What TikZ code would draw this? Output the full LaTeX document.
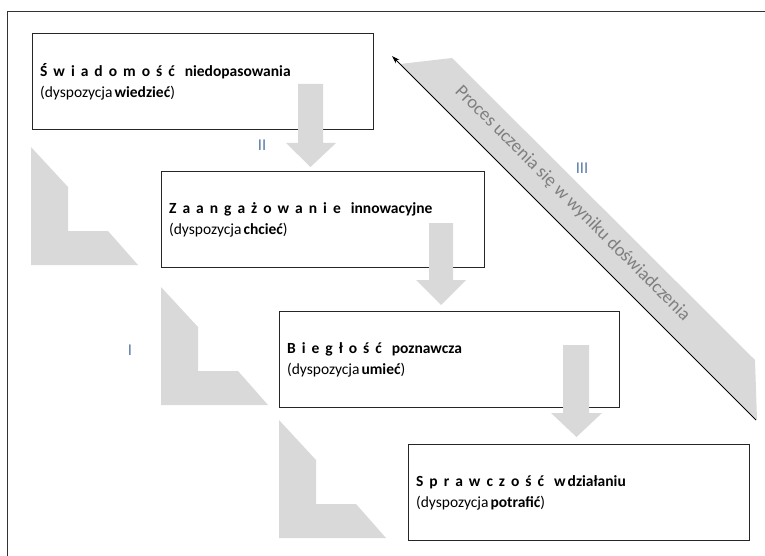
\documentclass[tikz,border=0pt]{standalone}
\usepackage{fontspec}
\setmainfont{Carlito}
\usetikzlibrary{arrows.meta}
\definecolor{shade}{HTML}{D9D9D9}
\definecolor{bandtext}{HTML}{7F7F7F}
\definecolor{numcol}{HTML}{5A7CA6}
\newcommand\ls{\kern6pt}
\newcommand\gapw{\hspace{10pt}}
\begin{document}
\begin{tikzpicture}[x=1pt,y=-1pt,
  stagebox/.style={draw=black!85, line width=1.3pt, fill=white, rectangle, anchor=north west,
    minimum height=96pt, inner xsep=7.5pt, inner ysep=0pt, align=left,
    font=\fontsize{15.5}{21.5}\selectfont},
  shadeshape/.style={fill=shade, draw=none},
  numlabel/.style={text=numcol, font=\fontsize{16.5}{20}\selectfont, inner sep=0pt}]
\useasboundingbox (0,0) rectangle (765,556);
% outer frame
\draw[line width=1.3pt, black!80] (765,11.5) -- (7.7,11.5) -- (7.7,556);
% L-shaped shades
\foreach \X/\Y in {31/147, 161/287, 279/420}
  \fill[shadeshape, shift={(\X,\Y)}] (0,0) -- (37,40) -- (37,84) -- (77,84) -- (107,118) -- (0,118) -- cycle;
% diagonal band
\fill[shadeshape] (400,64) -- (452,58) -- (755,360) -- (757,420) -- cycle;
\coordinate (lineStart) at (756,420);
\coordinate (lineEnd) at (392,56);
\draw[-{Stealth[length=8pt,width=5pt]}, line width=0.9pt] (lineStart) -- (lineEnd);
% boxes
\node[stagebox, minimum width=341pt, text width=326pt] (s1) at (32,33)
  {{\bfseries Ś\ls w\ls i\ls a\ls d\ls o\ls m\ls o\ls ś\ls ć\gapw niedopasowania}\\(dyspozycja\kern2pt\textbf{wiedzieć})};
\node[stagebox, minimum width=323pt, text width=308pt] (s2) at (161,171)
  {{\bfseries Z\ls a\ls a\ls n\ls g\ls a\ls ż\ls o\ls w\ls a\ls n\ls i\ls e\gapw innowacyjne}\\(dyspozycja\kern2pt\textbf{chcieć})};
\node[stagebox, minimum width=340pt, text width=325pt] (s3) at (279,311)
  {{\bfseries B\ls i\ls e\ls g\ls ł\ls o\ls ś\ls ć\gapw poznawcza}\\(dyspozycja\kern2pt\textbf{umieć})};
\node[stagebox, minimum width=341pt, text width=326pt] (s4) at (408,444)
  {{\bfseries S\ls p\ls r\ls a\ls w\ls c\ls z\ls o\ls ś\ls ć\gapw w\kern2pt działaniu}\\(dyspozycja\kern2pt\textbf{potrafić})};
% down arrows
\fill[shadeshape] (298,84) -- (323,84) -- (323,143) -- (336,143) -- (310.5,167) -- (286,143) -- (298,143) -- cycle;
\fill[shadeshape] (429,223) -- (453,223) -- (453,280) -- (466,280) -- (441,305) -- (416,280) -- (429,280) -- cycle;
\fill[shadeshape] (563,345) -- (589,345) -- (589,413) -- (602,413) -- (576.5,437) -- (551,413) -- (563,413) -- cycle;
% labels
\node[numlabel] (n2) at (262,145) {II};
\node[numlabel] (n3) at (582,168) {III};
\node[numlabel] (n1) at (130,350) {I};
\node[rotate=-45, text=bandtext, font=\fontsize{18.5}{20}\selectfont, inner sep=0pt] (band) at (572.5,203.5)
  {Proces uczenia się w wyniku doświadczenia};
\end{tikzpicture}
\end{document}
